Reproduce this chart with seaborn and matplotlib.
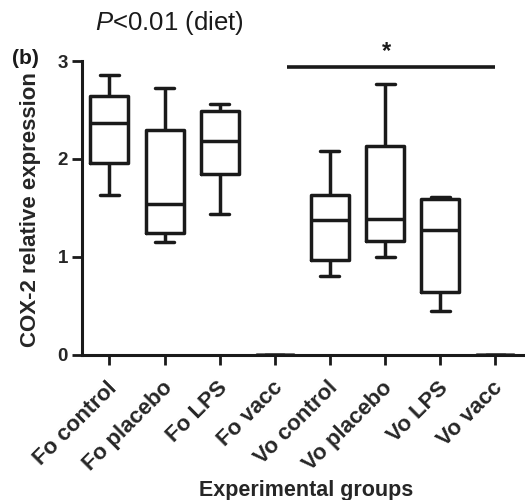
import matplotlib
matplotlib.use("Agg")
import matplotlib.pyplot as plt
import matplotlib.transforms as mtransforms
import seaborn as sns
import pandas as pd

groups = ["Fo control", "Fo placebo", "Fo LPS", "Fo vacc",
          "Vo control", "Vo placebo", "Vo LPS", "Vo vacc"]
# five-number summaries: min, Q1, median, Q3, max
fo_control = [1.63, 1.96, 2.37, 2.64, 2.86]
fo_placebo = [1.15, 1.24, 1.54, 2.29, 2.72]
fo_lps = [1.44, 1.85, 2.18, 2.49, 2.56]
fo_vacc = [0.0, 0.0, 0.0, 0.0, 0.0]
vo_control = [0.80, 0.97, 1.37, 1.63, 2.08]
vo_placebo = [1.00, 1.16, 1.39, 2.13, 2.76]
vo_lps = [0.44, 0.64, 1.27, 1.59, 1.61]
vo_vacc = [0.0, 0.0, 0.0, 0.0, 0.0]
series = [fo_control, fo_placebo, fo_lps, fo_vacc,
          vo_control, vo_placebo, vo_lps, vo_vacc]
sig_y = 2.94

rows = [(g, v) for g, vals in zip(groups, series) for v in vals]
df = pd.DataFrame(rows, columns=["group", "value"])

sns.set_theme(style="ticks")
plt.rcParams["font.family"] = ["Liberation Sans", "DejaVu Sans"]
plt.rcParams["mathtext.fontset"] = "custom"
plt.rcParams["mathtext.it"] = "Liberation Sans:italic"
plt.rcParams["mathtext.rm"] = "Liberation Sans"

ink = "#1a1a1a"
fig = plt.figure(figsize=(5.25, 5.0), dpi=100)
ax = fig.add_axes([0.156, 0.291, 0.84, 0.587])

sns.boxplot(data=df, x="group", y="value", order=groups, whis=(0, 100),
            fill=False, color=ink, width=0.69, linewidth=2.5,
            linecolor=ink, ax=ax)

ax.set_xlim(-0.5, 7.5)
ax.set_ylim(0, 3)
for s in ["top", "right"]:
    ax.spines[s].set_visible(False)
for s in ["left", "bottom"]:
    ax.spines[s].set_linewidth(2.2)
    ax.spines[s].set_color(ink)
ax.tick_params(axis="both", width=2, length=7, color=ink, pad=3)
ax.set_yticks([0, 1, 2, 3])
ax.set_yticklabels(["0", "1", "2", "3"], fontweight="bold", fontsize=13.5)
ax.set_xticks(range(len(groups)))
ax.set_xticklabels(groups, rotation=45, ha="right", rotation_mode="anchor",
                   fontweight="bold", fontsize=16)
shift = mtransforms.ScaledTranslation(-0.03, -0.09, fig.dpi_scale_trans)
for lbl in ax.get_xticklabels():
    lbl.set_transform(lbl.get_transform() + shift)
ax.set_xlabel("Experimental groups", fontweight="bold", fontsize=15.5)
ax.set_ylabel("COX-2 relative expression", fontweight="bold", fontsize=16)
ax.xaxis.set_label_coords(0.508, -0.428)
ax.yaxis.set_label_coords(-0.093, 0.494)

x0, x1 = 3.22, 7.0
ax.plot([x0, x1], [sig_y, sig_y], color=ink, lw=2.6,
        clip_on=False, solid_capstyle="butt")
ax.text(groups.index("Vo placebo") + 0.03, sig_y + 0.04, "*", ha="center", va="bottom",
        fontsize=17, fontweight="bold", color=ink)

fig.text(0.322, 0.954, r"$\it{P}$<0.01 (diet)", ha="center", va="center",
         fontsize=18.5, color=ink)
fig.text(0.048, 0.884, "(b)", ha="center", va="center", fontsize=15,
         fontweight="bold", color=ink)

fig.savefig("out.png", dpi=100)
